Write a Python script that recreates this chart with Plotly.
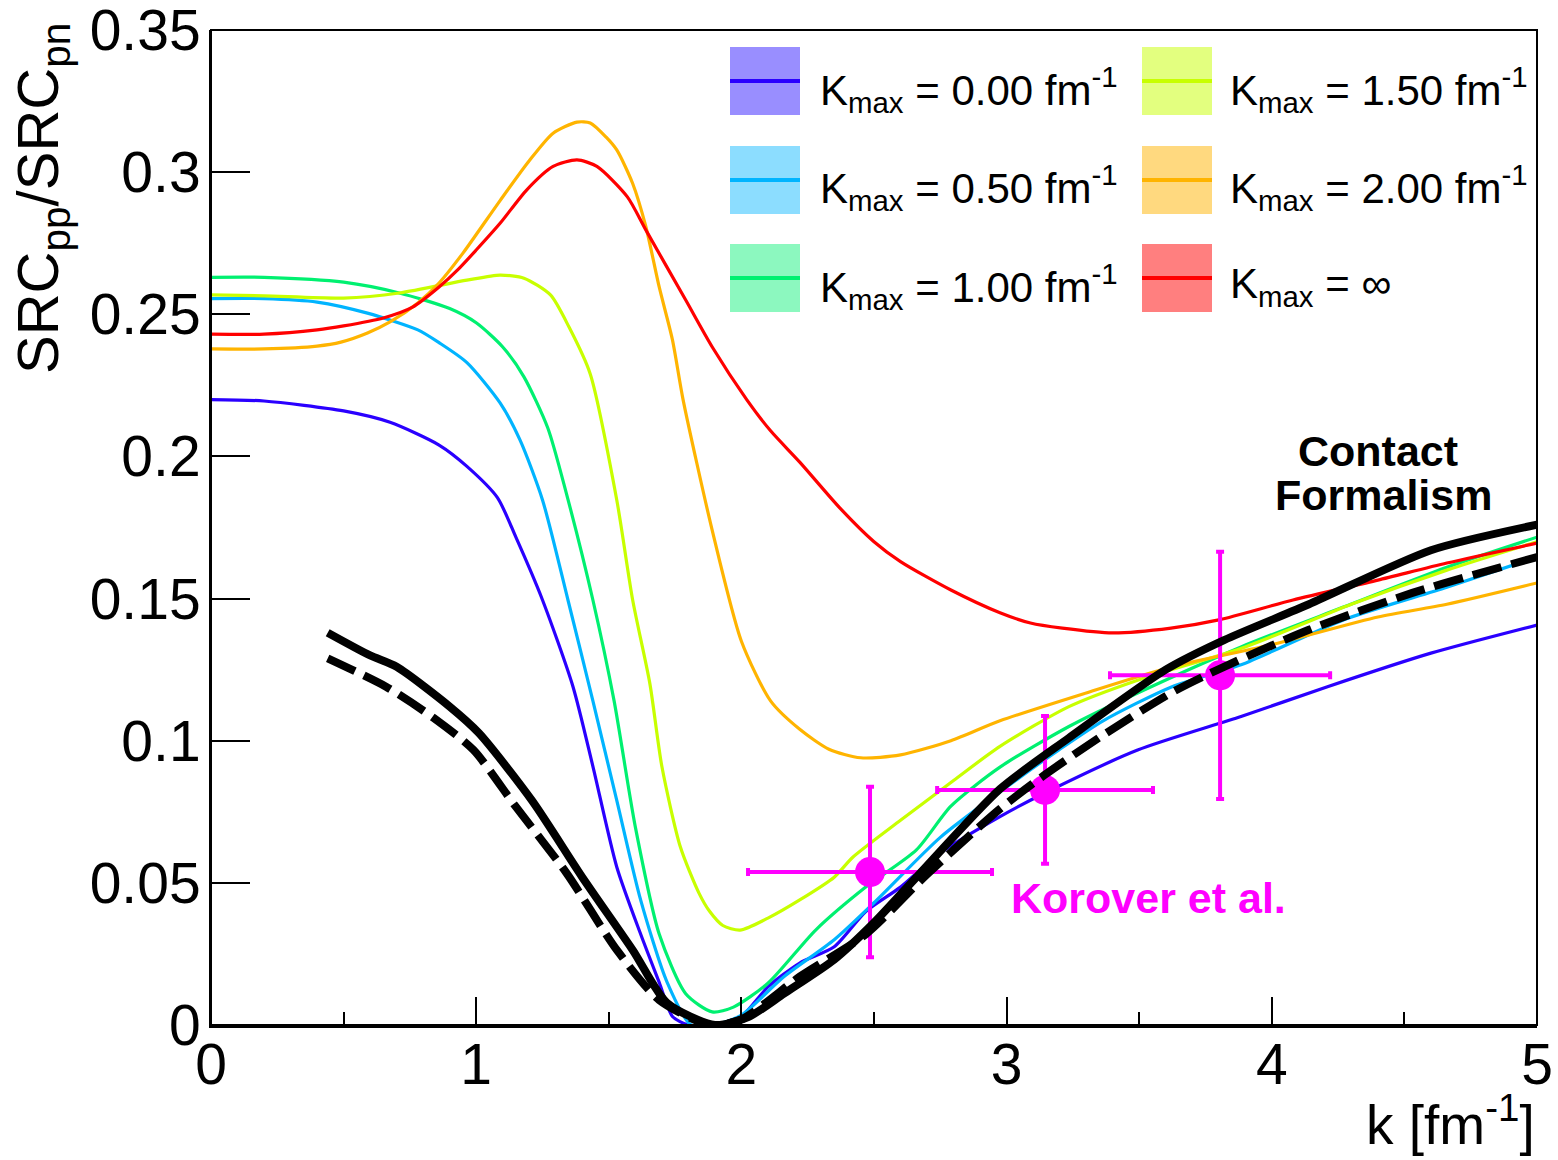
import plotly.graph_objects as go

# ---------------- data ----------------
k_blue = [0, 0.2, 0.5, 0.675, 0.86, 0.965, 1.08, 1.15, 1.25, 1.365, 1.44, 1.53, 1.62, 1.69, 1.74, 1.8, 1.9,
          2.0, 2.1, 2.22, 2.35, 2.47, 2.6, 2.75, 2.975, 3.144, 3.494, 3.884, 4.21, 4.6, 5.0]
v_blue = [0.22, 0.2195, 0.216, 0.212, 0.204, 0.1965, 0.1855, 0.1715, 0.1495, 0.119, 0.091, 0.0556, 0.032, 0.015, 0.003, 0.0, 0.0,
          0.003, 0.0134, 0.0218, 0.0275, 0.040, 0.0485, 0.0605, 0.0733, 0.0816, 0.0967, 0.1085, 0.119, 0.1308, 0.1407]

k_cyan = [0, 0.2, 0.4, 0.59, 0.78, 0.86, 0.965, 1.09, 1.165, 1.25, 1.346, 1.44, 1.53, 1.62, 1.72, 1.81, 1.9,
          2.0, 2.16, 2.35, 2.5, 2.75, 2.975, 3.196, 3.364, 3.624, 3.884, 4.27, 4.66, 5.0]
v_cyan = [0.2555, 0.2555, 0.2543, 0.2504, 0.2445, 0.24, 0.233, 0.2188, 0.2058, 0.1847, 0.1495, 0.114, 0.079, 0.044, 0.015, 0.0, 0.0,
          0.0035, 0.017, 0.030, 0.043, 0.066, 0.082, 0.0967, 0.107, 0.119, 0.1267, 0.1425, 0.154, 0.1646]

k_green = [0, 0.2, 0.5, 0.71, 0.9, 1.0, 1.1, 1.18, 1.27, 1.34, 1.44, 1.52, 1.6, 1.69, 1.79, 1.89, 1.97,
           2.1, 2.28, 2.47, 2.66, 2.79, 2.975, 3.235, 3.494, 3.884, 4.27, 4.66, 5.0]
v_green = [0.263, 0.263, 0.2613, 0.2575, 0.252, 0.247, 0.2385, 0.228, 0.21, 0.187, 0.1495, 0.114, 0.0697, 0.032, 0.011, 0.0046, 0.0063,
           0.0147, 0.0334, 0.0486, 0.0616, 0.077, 0.0907, 0.105, 0.1168, 0.133, 0.147, 0.161, 0.1716]

k_yellow = [0, 0.2, 0.5, 0.71, 0.965, 1.09, 1.18, 1.28, 1.35, 1.43, 1.53, 1.59, 1.655, 1.7, 1.77, 1.84, 1.88, 1.93, 1.995,
            2.1, 2.22, 2.35, 2.42, 2.6, 2.8, 2.975, 3.235, 3.494, 3.9, 4.3, 4.66, 5.0]
v_yellow = [0.2568, 0.2565, 0.2557, 0.2575, 0.262, 0.2638, 0.2627, 0.2568, 0.2455, 0.229, 0.1847, 0.1495, 0.12, 0.091, 0.0626, 0.0464, 0.040, 0.035, 0.0334,
            0.0376, 0.044, 0.052, 0.059, 0.072, 0.086, 0.098, 0.112, 0.1213, 0.133, 0.148, 0.160, 0.170]

k_orange = [0, 0.2, 0.4, 0.49, 0.59, 0.675, 0.78, 0.86, 0.95, 1.09, 1.2, 1.29, 1.38, 1.43, 1.49, 1.53, 1.59, 1.64, 1.69, 1.74, 1.78,
            1.89, 2.0, 2.11, 2.22, 2.33, 2.45, 2.6, 2.79, 2.975, 3.30, 3.624, 4.01, 4.40, 4.66, 5.0]
v_orange = [0.2378, 0.2378, 0.2388, 0.2402, 0.2434, 0.2473, 0.254, 0.261, 0.2715, 0.290, 0.304, 0.3137, 0.3176, 0.3173, 0.3123, 0.3078, 0.296, 0.2807, 0.2596, 0.241, 0.22,
            0.174, 0.135, 0.114, 0.104, 0.097, 0.094, 0.095, 0.100, 0.107, 0.1168, 0.126, 0.134, 0.1435, 0.148, 0.1555]

k_red = [0, 0.2, 0.4, 0.5, 0.65, 0.76, 0.86, 0.93, 1.0, 1.09, 1.19, 1.29, 1.38, 1.455, 1.57, 1.64, 1.79, 1.89, 2.02,
         2.11, 2.22, 2.37, 2.5, 2.6, 2.79, 2.975, 3.09, 3.21, 3.40, 3.62, 3.80, 4.08, 4.40, 4.66, 5.0]
v_red = [0.243, 0.243, 0.2445, 0.2459, 0.2487, 0.2525, 0.2596, 0.2656, 0.2726, 0.282, 0.2937, 0.302, 0.3043, 0.302, 0.2913, 0.2796, 0.255, 0.2385, 0.22,
         0.209, 0.198, 0.182, 0.170, 0.163, 0.153, 0.145, 0.1414, 0.1396, 0.1379, 0.1396, 0.1425, 0.1495, 0.1565, 0.1625, 0.1695]

k_contact = [0.44, 0.6, 0.7, 0.9, 1.01, 1.21, 1.4, 1.59, 1.72, 1.9, 2.03, 2.16, 2.35, 2.5, 2.66, 2.975, 3.235, 3.6, 3.82, 4.14, 4.6, 5.0]
v_contact = [0.138, 0.130, 0.126, 0.112, 0.1027, 0.079, 0.052, 0.0264, 0.0077, 0.0, 0.003, 0.011, 0.023, 0.036, 0.052, 0.083, 0.101, 0.125, 0.1354, 0.148, 0.167, 0.176]

k_contact_d = [0.44, 0.66, 0.84, 0.99, 1.15, 1.34, 1.53, 1.69, 1.88, 2.0, 2.22, 2.47, 2.7, 2.975, 3.144, 3.364, 3.624, 3.82, 4.14, 4.53, 5.0]
v_contact_d = [0.129, 0.119, 0.108, 0.0967, 0.0767, 0.0535, 0.0264, 0.0088, 0.0, 0.002, 0.017, 0.032, 0.053, 0.076, 0.088, 0.102, 0.117, 0.126, 0.139, 0.152, 0.1646]

k_data = [2.485, 3.145, 3.805]
v_data = [0.0538, 0.0827, 0.123]
k_err = [0.46, 0.407, 0.415]
v_err = [0.030, 0.026, 0.0435]

legend_labels = ["K<sub>max</sub> = 0.00 fm<sup>-1</sup>", "K<sub>max</sub> = 0.50 fm<sup>-1</sup>",
                 "K<sub>max</sub> = 1.00 fm<sup>-1</sup>", "K<sub>max</sub> = 1.50 fm<sup>-1</sup>",
                 "K<sub>max</sub> = 2.00 fm<sup>-1</sup>", "K<sub>max</sub> = ∞"]
x_ticks = [0, 1, 2, 3, 4, 5]
y_ticks = [0, 0.05, 0.1, 0.15, 0.2, 0.25, 0.3, 0.35]
y_tick_text = ["0", "0.05", "0.1", "0.15", "0.2", "0.25", "0.3", "0.35"]

# ---------------- styles ----------------
colors = ["#2a00ff", "#00b4ff", "#00f070", "#c8ff00", "#ffb400", "#ff0000"]
fills = ["rgba(70,50,255,0.55)", "rgba(0,180,255,0.45)", "rgba(0,240,112,0.45)",
         "rgba(200,255,0,0.5)", "rgba(255,180,0,0.5)", "rgba(255,0,0,0.5)"]
FONT = "Liberation Sans, Arial, Helvetica, sans-serif"

L, R, T, B = 211, 1537, 30, 1025
W, H = 1558, 1160


def pxx(x):
    return (x - L) / (R - L)


def pxy(y):
    return (B - y) / (B - T)


fig = go.Figure()
curves = [(k_blue, v_blue), (k_cyan, v_cyan), (k_green, v_green),
          (k_yellow, v_yellow), (k_orange, v_orange), (k_red, v_red)]
for (kx, vy), c in zip(curves, colors):
    fig.add_trace(go.Scatter(x=kx, y=vy, mode="lines",
                             line=dict(color=c, width=3.2, shape="spline", smoothing=0.7),
                             showlegend=False, hoverinfo="skip"))

fig.add_trace(go.Scatter(
    x=k_data, y=v_data, mode="markers",
    marker=dict(color="#ff00ff", size=30),
    error_x=dict(type="data", array=k_err, color="#ff00ff", thickness=4, width=4),
    error_y=dict(type="data", array=v_err, color="#ff00ff", thickness=4, width=4),
    showlegend=False))

fig.add_trace(go.Scatter(x=k_contact, y=v_contact, mode="lines",
                         line=dict(color="black", width=8, shape="spline", smoothing=0.7), showlegend=False))
fig.add_trace(go.Scatter(x=k_contact_d, y=v_contact_d, mode="lines",
                         line=dict(color="black", width=8, dash="30px,10px", shape="spline", smoothing=0.7),
                         showlegend=False))

# legend drawn manually
shapes = [dict(type="rect", xref="paper", yref="paper", x0=0, x1=1, y0=0, y1=1,
               line=dict(color="black", width=2), fillcolor="rgba(0,0,0,0)", layer="above")]
annotations = []
col_box_x = [730, 1142]
col_text_x = [818, 1228]
row_box_y = [(47, 115), (146, 214), (244, 312)]
for i, (lab, c, f) in enumerate(zip(legend_labels, colors, fills)):
    col, row = divmod(i, 3)
    x0, x1 = col_box_x[col], col_box_x[col] + 70
    y0, y1 = row_box_y[row]
    shapes.append(dict(type="rect", xref="paper", yref="paper",
                       x0=pxx(x0), x1=pxx(x1), y0=pxy(y1), y1=pxy(y0),
                       line=dict(width=0), fillcolor=f, layer="above"))
    ym = (y0 + y1) / 2
    shapes.append(dict(type="line", xref="paper", yref="paper",
                       x0=pxx(x0), x1=pxx(x1), y0=pxy(ym), y1=pxy(ym),
                       line=dict(color=c, width=4), layer="above"))
    annotations.append(dict(text=lab, xref="paper", yref="paper", x=pxx(col_text_x[col]), y=pxy(ym + 8),
                            xanchor="left", yanchor="middle", showarrow=False,
                            font=dict(family=FONT, size=42, color="black")))

annotations += [
    dict(text="<b>Contact</b>", xref="paper", yref="paper", x=pxx(1378), y=pxy(451),
         xanchor="center", yanchor="middle", showarrow=False, font=dict(family=FONT, size=43, color="black")),
    dict(text="<b>Formalism</b>", xref="paper", yref="paper", x=pxx(1383), y=pxy(495),
         xanchor="center", yanchor="middle", showarrow=False, font=dict(family=FONT, size=43, color="black")),
    dict(text="<b>Korover et al.</b>", xref="paper", yref="paper", x=pxx(1148), y=pxy(898),
         xanchor="center", yanchor="middle", showarrow=False, font=dict(family=FONT, size=43, color="#ff00ff")),
    dict(text="SRC<sub>pp</sub>/SRC<sub>pn</sub>", xref="paper", yref="paper", x=pxx(42), y=pxy(199),
         xanchor="center", yanchor="middle", textangle=-90, showarrow=False,
         font=dict(family=FONT, size=58, color="black")),
    dict(text="k [fm<sup>-1</sup>]", xref="paper", yref="paper", x=pxx(1537), y=pxy(1121),
         xanchor="right", yanchor="middle", showarrow=False,
         font=dict(family=FONT, size=55, color="black")),
]

fig.update_layout(
    width=W, height=H,
    margin=dict(l=L, r=W - R, t=T, b=H - B, pad=0, autoexpand=False),
    paper_bgcolor="white", plot_bgcolor="white",
    font=dict(family=FONT, color="black"),
    shapes=shapes, annotations=annotations,
    xaxis=dict(range=[0, 5], tickvals=x_ticks, ticks="inside", ticklen=28, tickwidth=2, tickcolor="black",
               minor=dict(dtick=0.5, tick0=0, ticks="inside", ticklen=13, tickwidth=2, tickcolor="black"),
               showline=True, linewidth=3, linecolor="black", showgrid=False, zeroline=False,
               automargin=False, ticklabelstandoff=-12, ticklabeloverflow="allow",
               tickfont=dict(family=FONT, size=57, color="black")),
    yaxis=dict(range=[0, 0.35], tickvals=y_ticks, ticktext=y_tick_text, ticks="inside", ticklen=39, tickwidth=2,
               tickcolor="black", showline=True, linewidth=2, linecolor="black", showgrid=False, zeroline=False,
               automargin=False, ticklabelstandoff=-3, ticklabeloverflow="allow",
               tickfont=dict(family=FONT, size=57, color="black")),
)

fig.write_html("out.html")
